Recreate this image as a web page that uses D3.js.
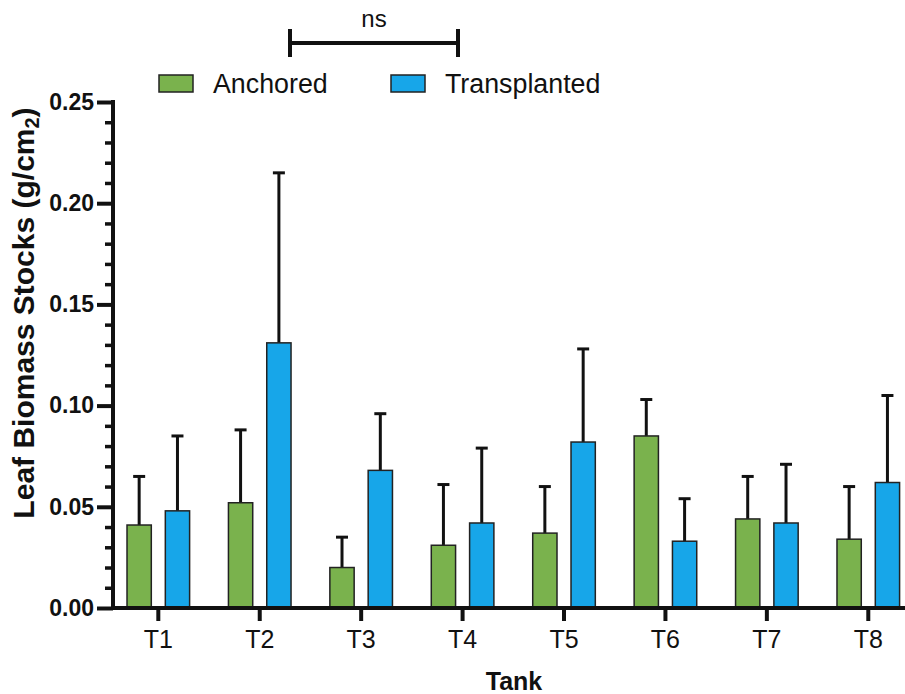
<!DOCTYPE html>
<html>
<head>
<meta charset="utf-8">
<script src="https://cdn.jsdelivr.net/npm/d3@7"></script>
<style>
  body { margin: 0; background: #fff; }
  text { font-family: "Liberation Sans", Arial, sans-serif; fill: #111; }
</style>
</head>
<body>
<div id="chart"></div>
<script>
var tanks = ["T1", "T2", "T3", "T4", "T5", "T6", "T7", "T8"];
var series = ["Anchored", "Transplanted"];
var anchoredMean = [0.041, 0.052, 0.020, 0.031, 0.037, 0.085, 0.044, 0.034];
var anchoredSd   = [0.024, 0.036, 0.015, 0.030, 0.023, 0.018, 0.021, 0.026];
var transMean    = [0.048, 0.131, 0.068, 0.042, 0.082, 0.033, 0.042, 0.062];
var transSd      = [0.037, 0.084, 0.028, 0.037, 0.046, 0.021, 0.029, 0.043];
var yMajor = [0, 0.05, 0.10, 0.15, 0.20, 0.25];
var colors = { "Anchored": "#7ab24d", "Transplanted": "#17a6e9" };

var width = 905, height = 694;
var svg = d3.select("#chart").append("svg").attr("width", width).attr("height", height);

var y = d3.scaleLinear().domain([0, 0.25]).range([608, 102]);
var x = d3.scaleBand().domain(tanks).range([107.6, 919]);
var xSub = d3.scaleBand().domain(series).range([-31.3, 31.3]).paddingInner(0.366);

var data = [];
tanks.forEach(function (t, i) {
    data.push({ tank: t, s: "Anchored", m: anchoredMean[i], sd: anchoredSd[i] });
    data.push({ tank: t, s: "Transplanted", m: transMean[i], sd: transSd[i] });
});
var cx = function (d) { return x(d.tank) + x.bandwidth() / 2 + xSub(d.s); };

// error bars (drawn first so bars cover the stem)
var err = svg.append("g").attr("stroke", "#111").attr("stroke-width", 3);
err.selectAll("line.stem").data(data).enter().append("line")
    .attr("x1", function (d) { return cx(d) + xSub.bandwidth() / 2; })
    .attr("x2", function (d) { return cx(d) + xSub.bandwidth() / 2; })
    .attr("y1", function (d) { return y(d.m); })
    .attr("y2", function (d) { return y(d.m + d.sd); });
err.selectAll("line.cap").data(data).enter().append("line")
    .attr("x1", function (d) { return cx(d) + xSub.bandwidth() / 2 - 6; })
    .attr("x2", function (d) { return cx(d) + xSub.bandwidth() / 2 + 6; })
    .attr("y1", function (d) { return y(d.m + d.sd); })
    .attr("y2", function (d) { return y(d.m + d.sd); });

svg.append("g").selectAll("rect").data(data).enter().append("rect")
    .attr("x", cx)
    .attr("y", function (d) { return y(d.m); })
    .attr("width", xSub.bandwidth())
    .attr("height", function (d) { return y(0) - y(d.m); })
    .attr("fill", function (d) { return colors[d.s]; })
    .attr("stroke", "#222").attr("stroke-width", 1.5);

// y axis with minor ticks
var yMinor = d3.range(0, 0.2501, 0.01).filter(function (v) {
    return Math.abs(Math.round(v * 20) - v * 20) > 1e-6;
});
var gMinor = svg.append("g").attr("transform", "translate(113,0)")
    .call(d3.axisLeft(y).tickValues(yMinor).tickSize(8).tickFormat(""));
gMinor.select(".domain").remove();
gMinor.selectAll(".tick line").attr("stroke", "#111").attr("stroke-width", 3.5);

var gy = svg.append("g").attr("transform", "translate(113,0)")
    .call(d3.axisLeft(y).tickValues(yMajor).tickSize(16).tickPadding(3).tickFormat(d3.format(".2f")));
gy.select(".domain").remove();
gy.selectAll(".tick line").attr("stroke", "#111").attr("stroke-width", 4);
gy.selectAll(".tick text").attr("font-size", "23px").attr("font-weight", "bold").attr("fill", "#111")
    .style("font-family", "'Liberation Sans', Arial, sans-serif");

svg.append("line").attr("x1", 113).attr("x2", 113).attr("y1", y(0) + 2).attr("y2", y(0.25) - 2)
    .attr("stroke", "#111").attr("stroke-width", 4);

// x axis
var gx = svg.append("g").attr("transform", "translate(0," + y(0) + ")")
    .call(d3.axisBottom(x).tickSize(13).tickPadding(9));
gx.select(".domain").remove();
gx.selectAll(".tick line").attr("stroke", "#111").attr("stroke-width", 4);
gx.selectAll(".tick text").attr("font-size", "25px").attr("fill", "#111")
    .style("font-family", "'Liberation Sans', Arial, sans-serif");
svg.append("line").attr("x1", 111).attr("x2", 905).attr("y1", y(0)).attr("y2", y(0))
    .attr("stroke", "#111").attr("stroke-width", 4);

// axis titles
svg.append("text").attr("x", 514).attr("y", 690).attr("text-anchor", "middle")
    .attr("font-size", "25px").attr("font-weight", "bold").text("Tank");
var yt = svg.append("text").attr("transform", "translate(34,313) rotate(-90)")
    .attr("text-anchor", "middle").attr("font-size", "30px").attr("font-weight", "bold");
yt.append("tspan").text("Leaf Biomass Stocks (g/cm");
yt.append("tspan").attr("font-size", "20px").attr("dy", 5).text("2");
yt.append("tspan").attr("dy", -5).text(")");

// legend
var legend = svg.append("g");
var lx = [159, 391];
series.forEach(function (s, i) {
    legend.append("rect").attr("x", lx[i]).attr("y", 75).attr("width", 34).attr("height", 17)
        .attr("fill", colors[s]).attr("stroke", "#222").attr("stroke-width", 1.5);
    legend.append("text").attr("x", lx[i] + 54).attr("y", 93).attr("font-size", "26.8px").text(s);
});

// significance bracket
var br = svg.append("g").attr("stroke", "#111").attr("stroke-width", 4);
br.append("line").attr("x1", 288).attr("x2", 460).attr("y1", 43).attr("y2", 43);
br.append("line").attr("x1", 290).attr("x2", 290).attr("y1", 29).attr("y2", 57);
br.append("line").attr("x1", 458).attr("x2", 458).attr("y1", 29).attr("y2", 57);
svg.append("text").attr("x", 374).attr("y", 27).attr("text-anchor", "middle")
    .attr("font-size", "24px").text("ns");
</script>
</body>
</html>
